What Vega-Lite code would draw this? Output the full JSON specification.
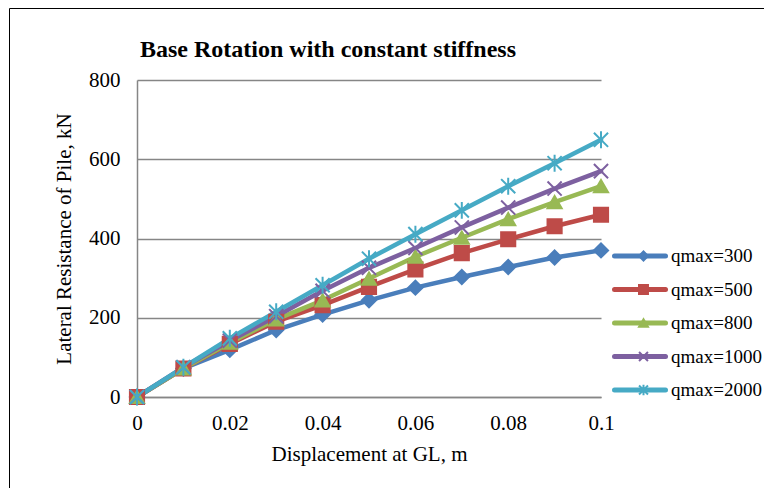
{
  "$schema": "https://vega.github.io/schema/vega-lite/v6.json",
  "width": 464,
  "height": 317,
  "autosize": {"type": "none"},
  "padding": {"left": 137, "top": 80, "right": 163, "bottom": 91},
  "background": "white",
  "config": {
    "font": "Liberation Serif",
    "view": {"stroke": null},
    "axis": {
      "labelFont": "Liberation Serif",
      "titleFont": "Liberation Serif",
      "labelColor": "black",
      "titleColor": "black",
      "labelFontSize": 21,
      "titleFontSize": 21,
      "titleFontWeight": "normal",
      "ticks": false,
      "domainColor": "#868686",
      "domainWidth": 1.5,
      "gridColor": "#868686",
      "gridWidth": 1.5
    },
    "legend": {
      "labelFont": "Liberation Serif",
      "labelFontSize": 19,
      "labelColor": "black"
    }
  },
  "title": {
    "text": "Base Rotation with constant stiffness",
    "font": "Liberation Serif",
    "fontSize": 24,
    "fontWeight": "bold",
    "color": "black",
    "anchor": "start",
    "frame": "group",
    "baseline": "alphabetic",
    "dx": 3,
    "offset": -73
  },
  "data": {
    "values": [
      {"d": 0, "r": 0, "qmax": 300, "series": "qmax=300"},
      {"d": 0.01, "r": 72, "qmax": 300, "series": "qmax=300"},
      {"d": 0.02, "r": 119, "qmax": 300, "series": "qmax=300"},
      {"d": 0.03, "r": 169, "qmax": 300, "series": "qmax=300"},
      {"d": 0.04, "r": 208, "qmax": 300, "series": "qmax=300"},
      {"d": 0.05, "r": 244, "qmax": 300, "series": "qmax=300"},
      {"d": 0.06, "r": 276, "qmax": 300, "series": "qmax=300"},
      {"d": 0.07, "r": 303, "qmax": 300, "series": "qmax=300"},
      {"d": 0.08, "r": 328, "qmax": 300, "series": "qmax=300"},
      {"d": 0.09, "r": 352, "qmax": 300, "series": "qmax=300"},
      {"d": 0.1, "r": 370, "qmax": 300, "series": "qmax=300"},
      {"d": 0, "r": 0, "qmax": 500, "series": "qmax=500"},
      {"d": 0.01, "r": 72, "qmax": 500, "series": "qmax=500"},
      {"d": 0.02, "r": 134, "qmax": 500, "series": "qmax=500"},
      {"d": 0.03, "r": 190, "qmax": 500, "series": "qmax=500"},
      {"d": 0.04, "r": 232, "qmax": 500, "series": "qmax=500"},
      {"d": 0.05, "r": 278, "qmax": 500, "series": "qmax=500"},
      {"d": 0.06, "r": 322, "qmax": 500, "series": "qmax=500"},
      {"d": 0.07, "r": 363, "qmax": 500, "series": "qmax=500"},
      {"d": 0.08, "r": 398, "qmax": 500, "series": "qmax=500"},
      {"d": 0.09, "r": 431, "qmax": 500, "series": "qmax=500"},
      {"d": 0.1, "r": 460, "qmax": 500, "series": "qmax=500"},
      {"d": 0, "r": 0, "qmax": 800, "series": "qmax=800"},
      {"d": 0.01, "r": 72, "qmax": 800, "series": "qmax=800"},
      {"d": 0.02, "r": 137, "qmax": 800, "series": "qmax=800"},
      {"d": 0.03, "r": 196, "qmax": 800, "series": "qmax=800"},
      {"d": 0.04, "r": 244, "qmax": 800, "series": "qmax=800"},
      {"d": 0.05, "r": 299, "qmax": 800, "series": "qmax=800"},
      {"d": 0.06, "r": 354, "qmax": 800, "series": "qmax=800"},
      {"d": 0.07, "r": 402, "qmax": 800, "series": "qmax=800"},
      {"d": 0.08, "r": 449, "qmax": 800, "series": "qmax=800"},
      {"d": 0.09, "r": 492, "qmax": 800, "series": "qmax=800"},
      {"d": 0.1, "r": 532, "qmax": 800, "series": "qmax=800"},
      {"d": 0, "r": 0, "qmax": 1000, "series": "qmax=1000"},
      {"d": 0.01, "r": 75, "qmax": 1000, "series": "qmax=1000"},
      {"d": 0.02, "r": 142, "qmax": 1000, "series": "qmax=1000"},
      {"d": 0.03, "r": 204, "qmax": 1000, "series": "qmax=1000"},
      {"d": 0.04, "r": 268, "qmax": 1000, "series": "qmax=1000"},
      {"d": 0.05, "r": 326, "qmax": 1000, "series": "qmax=1000"},
      {"d": 0.06, "r": 376, "qmax": 1000, "series": "qmax=1000"},
      {"d": 0.07, "r": 428, "qmax": 1000, "series": "qmax=1000"},
      {"d": 0.08, "r": 478, "qmax": 1000, "series": "qmax=1000"},
      {"d": 0.09, "r": 526, "qmax": 1000, "series": "qmax=1000"},
      {"d": 0.1, "r": 570, "qmax": 1000, "series": "qmax=1000"},
      {"d": 0, "r": 0, "qmax": 2000, "series": "qmax=2000"},
      {"d": 0.01, "r": 75, "qmax": 2000, "series": "qmax=2000"},
      {"d": 0.02, "r": 148, "qmax": 2000, "series": "qmax=2000"},
      {"d": 0.03, "r": 215, "qmax": 2000, "series": "qmax=2000"},
      {"d": 0.04, "r": 282, "qmax": 2000, "series": "qmax=2000"},
      {"d": 0.05, "r": 349, "qmax": 2000, "series": "qmax=2000"},
      {"d": 0.06, "r": 411, "qmax": 2000, "series": "qmax=2000"},
      {"d": 0.07, "r": 471, "qmax": 2000, "series": "qmax=2000"},
      {"d": 0.08, "r": 532, "qmax": 2000, "series": "qmax=2000"},
      {"d": 0.09, "r": 590, "qmax": 2000, "series": "qmax=2000"},
      {"d": 0.1, "r": 649, "qmax": 2000, "series": "qmax=2000"}
    ]
  },
  "encoding": {
    "x": {
      "field": "d",
      "type": "quantitative",
      "scale": {"domain": [0, 0.1], "nice": false, "zero": false},
      "axis": {
        "title": "Displacement at GL, m",
        "values": [0, 0.02, 0.04, 0.06, 0.08, 0.1],
        "format": "~g",
        "grid": false,
        "labelFlush": false,
        "labelPadding": 15,
        "titlePadding": 10
      }
    },
    "y": {
      "field": "r",
      "type": "quantitative",
      "scale": {"domain": [0, 800], "nice": false},
      "axis": {
        "title": "Lateral Resistance of Pile, kN",
        "values": [0, 200, 400, 600, 800],
        "grid": true,
        "labelFlush": false,
        "labelPadding": 17,
        "titlePadding": 14
      }
    }
  },
  "layer": [
    {
      "mark": {"type": "line", "strokeWidth": 4.5, "strokeCap": "round", "strokeJoin": "round"},
      "encoding": {
        "color": {
          "field": "series",
          "type": "nominal",
          "scale": {
            "domain": ["qmax=300", "qmax=500", "qmax=800", "qmax=1000", "qmax=2000"],
            "range": ["#4A7EBB", "#BE4B48", "#98B954", "#7D60A0", "#46AAC5"]
          },
          "legend": {
            "title": null,
            "orient": "none",
            "legendX": 475,
            "legendY": 166,
            "padding": 0,
            "symbolType": "stroke",
            "symbolSize": 2601,
            "symbolStrokeWidth": 5,
            "clipHeight": 20,
            "rowPadding": 13.5,
            "labelOffset": 3,
            "labelFont": "Liberation Serif",
            "labelFontSize": 19,
            "labelColor": "black",
            "encode": {"symbols": {"update": {"strokeCap": {"value": "round"}}}}
          }
        }
      }
    },
    {
      "mark": {"type": "point", "filled": true, "size": 200, "strokeWidth": 2, "opacity": 1},
      "encoding": {
        "fill": {
          "field": "qmax",
          "type": "nominal",
          "scale": {
            "domain": [300, 500, 800, 1000, 2000],
            "range": ["#4A7EBB", "#BE4B48", "#98B954", "#7D60A0", "#46AAC5"]
          },
          "legend": {
            "title": null,
            "orient": "none",
            "legendX": 497,
            "legendY": 166,
            "padding": 0,
            "symbolSize": 80,
            "symbolStrokeWidth": 2,
            "clipHeight": 20,
            "rowPadding": 13.5,
            "labelExpr": "''",
            "labelFontSize": 19
          }
        },
        "stroke": {
          "field": "qmax",
          "type": "nominal",
          "scale": {
            "domain": [300, 500, 800, 1000, 2000],
            "range": ["#4A7EBB", "#BE4B48", "#98B954", "#7D60A0", "#46AAC5"]
          }
        },
        "shape": {
          "field": "qmax",
          "type": "nominal",
          "scale": {
            "domain": [300, 500, 800, 1000, 2000],
            "range": ["diamond", "square", "triangle-up", "M-1,-1L1,1M-1,1L1,-1", "M-1,-1L1,1M-1,1L1,-1M0,-1.2L0,1.2"]
          }
        }
      }
    },
    {
      "mark": {"type": "point", "opacity": 0},
      "encoding": {
        "size": {
          "field": "r",
          "type": "quantitative",
          "legend": {
            "title": null,
            "orient": "none",
            "legendX": -128,
            "legendY": -72,
            "padding": 700,
            "strokeColor": "black",
            "labelExpr": "''",
            "symbolOpacity": 0,
            "encode": {"legend": {"update": {"strokeWidth": {"value": 2}}}}
          }
        }
      }
    }
  ]
}
